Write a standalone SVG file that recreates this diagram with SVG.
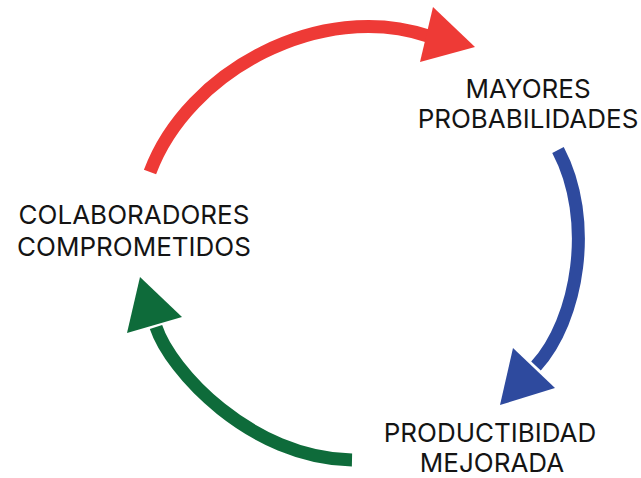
<svg xmlns="http://www.w3.org/2000/svg" width="641" height="478" viewBox="0 0 641 478">
<style>
.lbl{font-family:Inter,"Liberation Sans",sans-serif;font-size:26px;fill:#141414;text-anchor:middle}
.shaft{fill:none;stroke-width:13}
</style>
<rect width="641" height="478" fill="#ffffff"/>
<g id="connectors">
<g id="arrow-red">
<path class="shaft" stroke="#EE3A36" d="M150,172 C188,70 322,0 428,36"/>
<polygon fill="#EE3A36" points="433,7 475,47 420,62"/>
</g>
<g id="arrow-blue">
<path class="shaft" stroke="#2E4A9E" d="M558,150 C595,220 578,320 536,366"/>
<polygon fill="#2E4A9E" points="513,348 555,388 500,405"/>
</g>
<g id="arrow-green">
<path class="shaft" stroke="#0E6B3A" d="M352,460 C250,458 170,370 156,327"/>
<polygon fill="#0E6B3A" points="140,277 182,317 127,333"/>
</g>
</g>
<g id="node-colaboradores">
<text class="lbl" x="134" y="224">COLABORADORES</text>
<text class="lbl" x="134" y="256">COMPROMETIDOS</text>
</g>
<g id="node-mayores">
<text class="lbl" x="528" y="98">MAYORES</text>
<text class="lbl" x="528" y="128">PROBABILIDADES</text>
</g>
<g id="node-productividad">
<text class="lbl" x="490" y="442">PRODUCTIBIDAD</text>
<text class="lbl" x="492" y="472">MEJORADA</text>
</g>
</svg>
